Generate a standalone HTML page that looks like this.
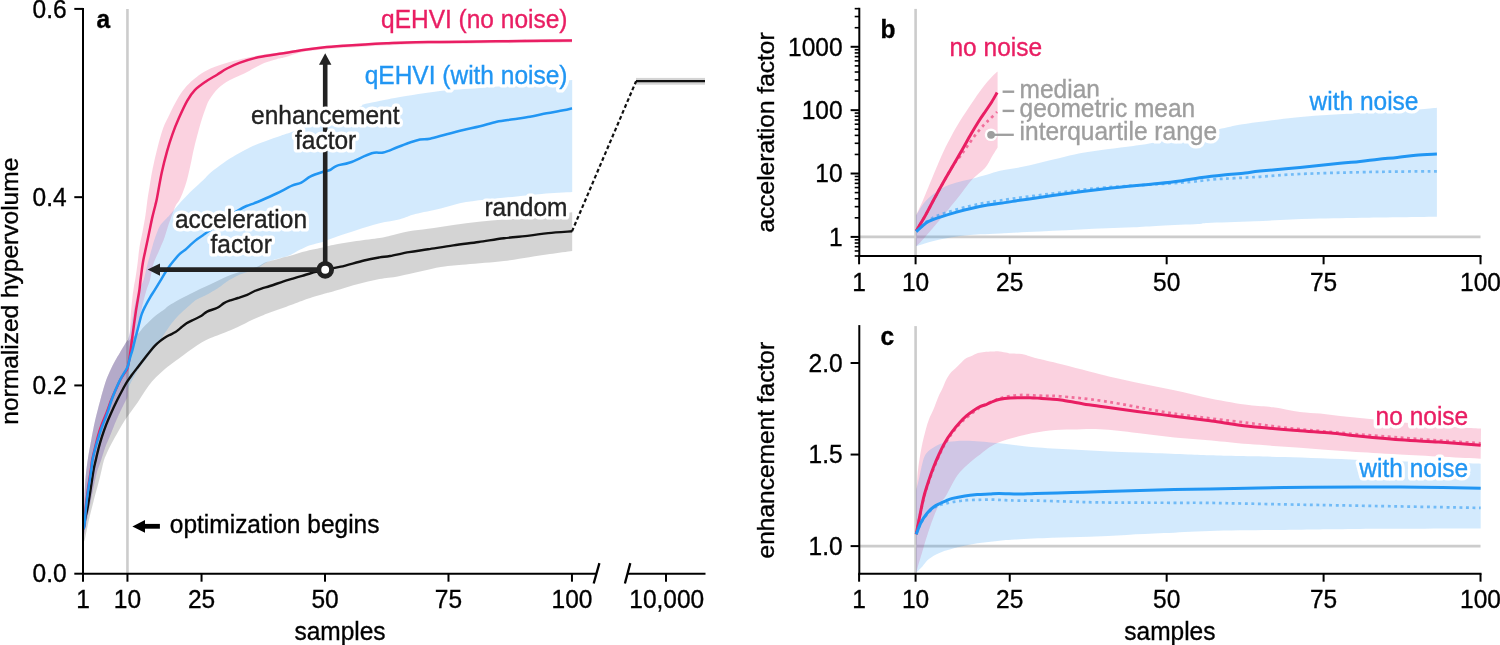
<!DOCTYPE html>
<html><head><meta charset="utf-8"><title>qEHVI benchmark figure</title>
<style>
html,body{margin:0;padding:0;background:#fff;width:1500px;height:645px;overflow:hidden}
svg{display:block;will-change:transform}
text{font-family:"Liberation Sans", sans-serif}
</style></head>
<body>
<svg width="1500" height="645" viewBox="0 0 1500 645">
<line x1="127.45" y1="8.9" x2="127.45" y2="573.7" stroke="#cccccc" stroke-width="2.6"/>
<path d="M83.70,518.00 C83.83,514.00 84.15,501.17 84.50,494.00 C84.85,486.83 85.22,481.00 85.80,475.00 C86.38,469.00 87.12,463.70 88.00,458.00 C88.88,452.30 89.92,447.03 91.10,440.80 C92.28,434.57 93.58,427.32 95.10,420.60 C96.62,413.88 98.52,406.77 100.20,400.50 C101.88,394.23 103.57,387.92 105.20,383.00 C106.83,378.08 108.37,374.67 110.00,371.00 C111.63,367.33 113.28,364.17 115.00,361.00 C116.72,357.83 118.25,355.42 120.30,352.00 C122.35,348.58 125.93,342.33 127.30,340.50 C128.67,338.67 127.55,341.58 128.50,341.00 C129.45,340.42 131.25,338.38 133.00,337.00 C134.75,335.62 137.23,334.35 139.00,332.70 C140.77,331.05 141.60,329.27 143.60,327.10 C145.60,324.93 148.77,321.80 151.00,319.70 C153.23,317.60 154.75,316.25 157.00,314.50 C159.25,312.75 162.50,310.68 164.50,309.20 C166.50,307.72 166.70,307.13 169.00,305.60 C171.30,304.07 174.80,301.93 178.30,300.00 C181.80,298.07 186.38,295.83 190.00,294.00 C193.62,292.17 196.67,290.58 200.00,289.00 C203.33,287.42 206.78,286.02 210.00,284.50 C213.22,282.98 216.20,281.37 219.30,279.90 C222.40,278.43 225.50,276.93 228.60,275.70 C231.70,274.47 234.67,273.53 237.90,272.50 C241.13,271.47 244.67,270.50 248.00,269.50 C251.33,268.50 255.07,267.67 257.90,266.50 C260.73,265.33 262.27,263.58 265.00,262.50 C267.73,261.42 271.20,260.88 274.30,260.00 C277.40,259.12 280.50,258.05 283.60,257.20 C286.70,256.35 289.80,255.75 292.90,254.90 C296.00,254.05 299.10,252.95 302.20,252.10 C305.30,251.25 308.08,250.58 311.50,249.80 C314.92,249.02 319.12,248.20 322.70,247.40 C326.28,246.60 327.40,246.05 333.00,245.00 C338.60,243.95 348.55,242.27 356.30,241.10 C364.05,239.93 373.88,238.90 379.50,238.00 C385.12,237.10 385.08,236.83 390.00,235.70 C394.92,234.57 402.67,232.37 409.00,231.20 C415.33,230.03 420.62,229.75 428.00,228.70 C435.38,227.65 444.85,226.07 453.30,224.90 C461.75,223.73 470.25,222.58 478.70,221.70 C487.15,220.82 495.57,220.22 504.00,219.60 C512.43,218.98 521.63,218.68 529.30,218.00 C536.97,217.32 542.85,216.47 550.00,215.50 C557.15,214.53 568.50,212.75 572.20,212.20 L572.20,250.90 C568.50,251.42 557.15,252.95 550.00,254.00 C542.85,255.05 536.97,256.03 529.30,257.20 C521.63,258.37 514.55,259.78 504.00,261.00 C493.45,262.22 476.52,263.50 466.00,264.50 C455.48,265.50 451.90,265.08 440.90,267.00 C429.90,268.92 410.23,273.98 400.00,276.00 C389.77,278.02 386.78,277.68 379.50,279.10 C372.22,280.52 364.05,282.43 356.30,284.50 C348.55,286.57 338.22,290.00 333.00,291.50 C327.78,293.00 328.58,292.50 325.00,293.50 C321.42,294.50 315.07,296.37 311.50,297.50 C307.93,298.63 307.77,298.77 303.60,300.30 C299.43,301.83 292.10,304.67 286.50,306.70 C280.90,308.73 274.22,310.95 270.00,312.50 C265.78,314.05 264.22,314.75 261.20,316.00 C258.18,317.25 255.78,318.17 251.90,320.00 C248.02,321.83 242.38,324.92 237.90,327.00 C233.42,329.08 228.82,330.95 225.00,332.50 C221.18,334.05 218.13,335.05 215.00,336.30 C211.87,337.55 209.22,338.45 206.20,340.00 C203.18,341.55 200.00,343.58 196.90,345.60 C193.80,347.62 190.70,349.87 187.60,352.10 C184.50,354.33 181.57,356.60 178.30,359.00 C175.03,361.40 171.05,364.08 168.00,366.50 C164.95,368.92 162.67,371.00 160.00,373.50 C157.33,376.00 154.55,378.50 152.00,381.50 C149.45,384.50 147.03,388.08 144.70,391.50 C142.37,394.92 140.20,398.75 138.00,402.00 C135.80,405.25 133.67,408.00 131.50,411.00 C129.33,414.00 127.17,416.67 125.00,420.00 C122.83,423.33 120.78,427.00 118.50,431.00 C116.22,435.00 113.30,440.17 111.30,444.00 C109.30,447.83 107.80,451.00 106.50,454.00 C105.20,457.00 104.63,457.95 103.50,462.00 C102.37,466.05 101.37,471.72 99.70,478.30 C98.03,484.88 95.30,494.53 93.50,501.50 C91.70,508.47 90.32,513.90 88.90,520.10 C87.48,526.30 85.90,535.05 85.00,538.70 C84.10,542.35 83.75,541.45 83.50,542.00 Z" fill="#000" fill-opacity="0.17"/>
<path d="M83.70,518.00 C83.83,514.00 84.15,501.17 84.50,494.00 C84.85,486.83 85.22,481.00 85.80,475.00 C86.38,469.00 87.12,463.70 88.00,458.00 C88.88,452.30 89.92,447.03 91.10,440.80 C92.28,434.57 93.58,427.32 95.10,420.60 C96.62,413.88 98.52,406.77 100.20,400.50 C101.88,394.23 103.57,387.92 105.20,383.00 C106.83,378.08 108.37,374.67 110.00,371.00 C111.63,367.33 113.28,364.17 115.00,361.00 C116.72,357.83 118.25,355.42 120.30,352.00 C122.35,348.58 126.08,342.33 127.30,340.50 C128.52,338.67 127.20,342.25 127.60,341.00 C128.00,339.75 129.20,337.00 129.70,333.00 C130.20,329.00 130.17,322.75 130.60,317.00 C131.03,311.25 131.73,303.67 132.30,298.50 C132.87,293.33 133.47,289.42 134.00,286.00 C134.53,282.58 134.92,281.67 135.50,278.00 C136.08,274.33 136.83,269.17 137.50,264.00 C138.17,258.83 138.67,252.33 139.50,247.00 C140.33,241.67 141.50,237.33 142.50,232.00 C143.50,226.67 144.68,220.33 145.50,215.00 C146.32,209.67 146.73,204.67 147.40,200.00 C148.07,195.33 148.67,192.00 149.50,187.00 C150.33,182.00 151.02,176.75 152.40,170.00 C153.78,163.25 156.00,153.50 157.80,146.50 C159.60,139.50 161.23,133.38 163.20,128.00 C165.17,122.62 167.30,118.92 169.60,114.20 C171.90,109.48 174.47,104.02 177.00,99.70 C179.53,95.38 182.05,91.65 184.80,88.30 C187.55,84.95 190.18,82.38 193.50,79.60 C196.82,76.82 200.77,73.87 204.70,71.60 C208.63,69.33 212.35,67.77 217.10,66.00 C221.85,64.23 227.42,62.55 233.20,61.00 C238.98,59.45 245.60,57.93 251.80,56.70 C258.00,55.47 264.87,54.43 270.40,53.60 C275.93,52.77 279.85,52.47 285.00,51.70 C290.15,50.93 295.02,49.90 301.30,49.00 C307.58,48.10 315.58,47.05 322.70,46.30 C329.82,45.55 336.90,45.03 344.00,44.50 C351.10,43.97 358.18,43.52 365.30,43.10 C372.42,42.68 379.58,42.33 386.70,42.00 C393.82,41.67 399.12,41.32 408.00,41.10 C416.88,40.88 427.80,40.85 440.00,40.70 C452.20,40.55 467.87,40.37 481.20,40.20 C494.53,40.03 504.87,39.88 520.00,39.70 C535.13,39.52 563.33,39.20 572.00,39.10 L572.00,42.40 C563.33,42.50 535.13,42.82 520.00,43.00 C504.87,43.18 494.53,43.33 481.20,43.50 C467.87,43.67 452.20,43.85 440.00,44.00 C427.80,44.15 416.88,44.18 408.00,44.40 C399.12,44.62 393.82,44.97 386.70,45.30 C379.58,45.63 372.42,45.98 365.30,46.40 C358.18,46.82 351.10,47.27 344.00,47.80 C336.90,48.33 329.82,48.85 322.70,49.60 C315.58,50.35 307.58,51.02 301.30,52.30 C295.02,53.58 289.12,56.15 285.00,57.30 C280.88,58.45 280.07,58.27 276.60,59.20 C273.13,60.13 267.92,61.45 264.20,62.90 C260.48,64.35 257.62,66.15 254.30,67.90 C250.98,69.65 248.43,71.35 244.30,73.40 C240.17,75.45 233.83,77.72 229.50,80.20 C225.17,82.68 221.63,85.08 218.30,88.30 C214.97,91.52 211.72,95.88 209.50,99.50 C207.28,103.12 206.52,105.92 205.00,110.00 C203.48,114.08 202.20,117.75 200.40,124.00 C198.60,130.25 195.85,140.67 194.20,147.50 C192.55,154.33 191.70,159.58 190.50,165.00 C189.30,170.42 188.25,175.50 187.00,180.00 C185.75,184.50 184.25,188.67 183.00,192.00 C181.75,195.33 180.75,197.67 179.50,200.00 C178.25,202.33 176.92,203.00 175.50,206.00 C174.08,209.00 172.18,214.83 171.00,218.00 C169.82,221.17 169.47,221.80 168.40,225.00 C167.33,228.20 166.03,233.20 164.60,237.20 C163.17,241.20 161.68,244.48 159.80,249.00 C157.92,253.52 154.93,259.13 153.30,264.30 C151.67,269.47 151.13,275.72 150.00,280.00 C148.87,284.28 147.75,285.83 146.50,290.00 C145.25,294.17 143.67,300.00 142.50,305.00 C141.33,310.00 140.50,315.17 139.50,320.00 C138.50,324.83 137.42,330.33 136.50,334.00 C135.58,337.67 134.83,339.00 134.00,342.00 C133.17,345.00 132.25,348.17 131.50,352.00 C130.75,355.83 130.03,360.33 129.50,365.00 C128.97,369.67 128.62,374.83 128.30,380.00 C127.98,385.17 127.98,392.67 127.60,396.00 C127.22,399.33 127.02,397.83 126.00,400.00 C124.98,402.17 123.17,405.50 121.50,409.00 C119.83,412.50 117.70,417.05 116.00,421.00 C114.30,424.95 113.13,428.20 111.30,432.70 C109.47,437.20 106.68,443.45 105.00,448.00 C103.32,452.55 102.53,456.00 101.20,460.00 C99.87,464.00 98.37,467.00 97.00,472.00 C95.63,477.00 94.33,483.67 93.00,490.00 C91.67,496.33 90.17,504.17 89.00,510.00 C87.83,515.83 86.83,520.83 86.00,525.00 C85.17,529.17 84.33,533.33 84.00,535.00 Z" fill="#E91E63" fill-opacity="0.2"/>
<path d="M83.70,518.00 C83.83,514.00 84.15,501.17 84.50,494.00 C84.85,486.83 85.22,481.00 85.80,475.00 C86.38,469.00 87.12,463.70 88.00,458.00 C88.88,452.30 89.92,447.03 91.10,440.80 C92.28,434.57 93.58,427.32 95.10,420.60 C96.62,413.88 98.52,406.77 100.20,400.50 C101.88,394.23 103.57,387.92 105.20,383.00 C106.83,378.08 108.37,374.67 110.00,371.00 C111.63,367.33 113.28,364.17 115.00,361.00 C116.72,357.83 118.25,355.42 120.30,352.00 C122.35,348.58 126.08,342.33 127.30,340.50 C128.52,338.67 127.15,342.42 127.60,341.00 C128.05,339.58 129.18,335.83 130.00,332.00 C130.82,328.17 131.58,323.00 132.50,318.00 C133.42,313.00 134.42,306.67 135.50,302.00 C136.58,297.33 137.65,293.67 139.00,290.00 C140.35,286.33 142.20,284.25 143.60,280.00 C145.00,275.75 146.02,269.78 147.40,264.50 C148.78,259.22 150.63,252.72 151.90,248.30 C153.17,243.88 153.70,241.68 155.00,238.00 C156.30,234.32 158.03,229.20 159.70,226.20 C161.37,223.20 163.33,221.87 165.00,220.00 C166.67,218.13 167.87,217.08 169.70,215.00 C171.53,212.92 173.85,210.00 176.00,207.50 C178.15,205.00 179.87,202.92 182.60,200.00 C185.33,197.08 188.95,193.35 192.40,190.00 C195.85,186.65 200.20,182.87 203.30,179.90 C206.40,176.93 207.65,175.03 211.00,172.20 C214.35,169.37 219.27,165.75 223.40,162.90 C227.53,160.05 231.40,157.68 235.80,155.10 C240.20,152.52 244.88,149.72 249.80,147.40 C254.72,145.08 260.13,143.15 265.30,141.20 C270.47,139.25 276.15,137.30 280.80,135.70 C285.45,134.10 286.67,134.05 293.20,131.60 C299.73,129.15 309.22,125.02 320.00,121.00 C330.78,116.98 350.68,110.25 357.90,107.50 C365.12,104.75 360.28,105.45 363.30,104.50 C366.32,103.55 370.10,103.00 376.00,101.80 C381.90,100.60 388.03,99.10 398.70,97.30 C409.37,95.50 426.45,92.57 440.00,91.00 C453.55,89.43 465.00,89.10 480.00,87.90 C495.00,86.70 514.63,85.12 530.00,83.80 C545.37,82.48 565.17,80.63 572.20,80.00 L572.20,192.00 C567.17,192.32 551.25,193.17 542.00,193.90 C532.75,194.63 525.15,195.57 516.70,196.40 C508.25,197.23 499.75,197.95 491.30,198.90 C482.85,199.85 474.43,200.52 466.00,202.10 C457.57,203.68 449.15,206.40 440.70,208.40 C432.25,210.40 422.08,212.28 415.30,214.10 C408.52,215.92 405.97,217.77 400.00,219.30 C394.03,220.83 386.78,221.48 379.50,223.30 C372.22,225.12 364.05,227.75 356.30,230.20 C348.55,232.65 338.60,236.05 333.00,238.00 C327.40,239.95 326.53,240.70 322.70,241.90 C318.87,243.10 313.82,243.88 310.00,245.20 C306.18,246.52 303.05,248.18 299.80,249.80 C296.55,251.42 293.45,253.62 290.50,254.90 C287.55,256.18 285.98,256.33 282.10,257.50 C278.22,258.67 271.23,260.17 267.20,261.90 C263.17,263.63 261.60,266.08 257.90,267.90 C254.20,269.72 248.33,271.53 245.00,272.80 C241.67,274.07 240.95,274.02 237.90,275.50 C234.85,276.98 229.80,279.73 226.70,281.70 C223.60,283.67 222.08,285.43 219.30,287.30 C216.52,289.17 212.88,291.28 210.00,292.90 C207.12,294.52 204.35,295.82 202.00,297.00 C199.65,298.18 197.85,298.72 195.90,300.00 C193.95,301.28 192.47,302.83 190.30,304.70 C188.13,306.57 185.07,309.20 182.90,311.20 C180.73,313.20 179.17,314.68 177.30,316.70 C175.43,318.72 173.87,320.42 171.70,323.30 C169.53,326.18 166.17,331.22 164.30,334.00 C162.43,336.78 162.05,337.83 160.50,340.00 C158.95,342.17 156.87,344.50 155.00,347.00 C153.13,349.50 151.55,351.98 149.30,355.00 C147.05,358.02 143.83,361.87 141.50,365.10 C139.17,368.33 137.50,370.52 135.30,374.40 C133.10,378.28 129.58,384.80 128.30,388.40 C127.02,392.00 127.98,394.07 127.60,396.00 C127.22,397.93 127.02,397.83 126.00,400.00 C124.98,402.17 123.17,405.50 121.50,409.00 C119.83,412.50 117.70,417.05 116.00,421.00 C114.30,424.95 113.13,428.20 111.30,432.70 C109.47,437.20 106.68,443.45 105.00,448.00 C103.32,452.55 102.53,456.00 101.20,460.00 C99.87,464.00 98.37,467.00 97.00,472.00 C95.63,477.00 94.33,483.67 93.00,490.00 C91.67,496.33 90.17,504.17 89.00,510.00 C87.83,515.83 86.83,520.83 86.00,525.00 C85.17,529.17 84.33,533.33 84.00,535.00 Z" fill="#2196F3" fill-opacity="0.2"/>
<path d="M83.50,529.00 C83.83,527.00 84.87,520.28 85.50,517.00 C86.13,513.72 86.48,513.68 87.30,509.30 C88.12,504.92 89.37,497.17 90.40,490.70 C91.43,484.23 92.60,475.62 93.50,470.50 C94.40,465.38 94.95,463.70 95.80,460.00 C96.65,456.30 97.60,452.10 98.60,448.30 C99.60,444.50 100.57,441.07 101.80,437.20 C103.03,433.33 104.52,428.98 106.00,425.10 C107.48,421.22 108.83,418.08 110.70,413.90 C112.57,409.72 115.27,403.95 117.20,400.00 C119.13,396.05 120.67,393.22 122.30,390.20 C123.93,387.18 125.45,384.38 127.00,381.90 C128.55,379.42 129.90,377.63 131.60,375.30 C133.30,372.97 135.18,370.53 137.20,367.90 C139.22,365.27 141.53,362.28 143.70,359.50 C145.87,356.72 148.32,353.52 150.20,351.20 C152.08,348.88 153.42,347.23 155.00,345.60 C156.58,343.97 158.15,342.65 159.70,341.40 C161.25,340.15 162.75,339.12 164.30,338.10 C165.85,337.08 167.13,336.30 169.00,335.30 C170.87,334.30 173.65,333.25 175.50,332.10 C177.35,330.95 178.25,329.87 180.10,328.40 C181.95,326.93 184.27,324.78 186.60,323.30 C188.93,321.82 191.62,320.75 194.10,319.50 C196.58,318.25 199.33,317.12 201.50,315.80 C203.67,314.48 204.45,312.93 207.10,311.60 C209.75,310.27 214.58,309.22 217.40,307.80 C220.22,306.38 221.82,304.35 224.00,303.10 C226.18,301.85 228.18,301.15 230.50,300.30 C232.82,299.45 235.12,298.92 237.90,298.00 C240.68,297.08 244.40,295.97 247.20,294.80 C250.00,293.63 252.22,292.08 254.70,291.00 C257.18,289.92 259.55,289.13 262.10,288.30 C264.65,287.47 266.42,287.15 270.00,286.00 C273.58,284.85 279.78,282.63 283.60,281.40 C287.42,280.17 289.80,279.53 292.90,278.60 C296.00,277.67 299.10,276.73 302.20,275.80 C305.30,274.87 309.02,273.70 311.50,273.00 C313.98,272.30 314.85,272.13 317.10,271.60 C319.35,271.07 321.05,270.62 325.00,269.80 C328.95,268.98 334.30,268.25 340.80,266.70 C347.30,265.15 357.55,262.05 364.00,260.50 C370.45,258.95 375.17,258.15 379.50,257.40 C383.83,256.65 385.08,256.88 390.00,256.00 C394.92,255.12 402.67,253.22 409.00,252.10 C415.33,250.98 420.62,250.42 428.00,249.30 C435.38,248.18 444.85,246.62 453.30,245.40 C461.75,244.18 470.25,243.18 478.70,242.00 C487.15,240.82 495.57,239.37 504.00,238.30 C512.43,237.23 521.92,236.47 529.30,235.60 C536.68,234.73 541.15,233.82 548.30,233.10 C555.45,232.38 568.22,231.60 572.20,231.30" fill="none" stroke="#111" stroke-width="2.4" stroke-linejoin="round"/>
<path d="M83.50,529.00 C83.65,528.25 84.05,527.83 84.40,524.50 C84.75,521.17 85.03,514.67 85.60,509.00 C86.17,503.33 86.92,497.00 87.80,490.50 C88.68,484.00 90.17,475.08 90.90,470.00 C91.63,464.92 91.52,463.67 92.20,460.00 C92.88,456.33 94.03,452.00 95.00,448.00 C95.97,444.00 96.90,439.83 98.00,436.00 C99.10,432.17 100.18,428.83 101.60,425.00 C103.02,421.17 104.90,417.17 106.50,413.00 C108.10,408.83 109.65,403.90 111.20,400.00 C112.75,396.10 114.25,393.02 115.80,389.60 C117.35,386.18 118.88,382.52 120.50,379.50 C122.12,376.48 124.35,373.33 125.50,371.50 C126.65,369.67 126.73,370.75 127.40,368.50 C128.07,366.25 128.82,362.25 129.50,358.00 C130.18,353.75 130.78,348.33 131.50,343.00 C132.22,337.67 133.07,331.33 133.80,326.00 C134.53,320.67 135.27,315.17 135.90,311.00 C136.53,306.83 137.02,304.50 137.60,301.00 C138.18,297.50 138.90,293.58 139.40,290.00 C139.90,286.42 140.00,284.17 140.60,279.50 C141.20,274.83 142.08,267.40 143.00,262.00 C143.92,256.60 145.07,252.05 146.10,247.10 C147.13,242.15 148.17,237.25 149.20,232.30 C150.23,227.35 151.27,221.95 152.30,217.40 C153.33,212.85 154.62,208.23 155.40,205.00 C156.18,201.77 155.95,203.37 157.00,198.00 C158.05,192.63 160.02,180.62 161.70,172.80 C163.38,164.98 165.30,157.55 167.10,151.10 C168.90,144.65 170.57,139.52 172.50,134.10 C174.43,128.68 176.23,124.17 178.70,118.60 C181.17,113.03 184.62,105.43 187.30,100.70 C189.98,95.97 191.70,93.40 194.80,90.20 C197.90,87.00 202.18,84.08 205.90,81.50 C209.62,78.92 213.58,76.87 217.10,74.70 C220.62,72.53 223.28,70.47 227.00,68.50 C230.72,66.53 234.23,64.77 239.40,62.90 C244.57,61.03 250.40,58.95 258.00,57.30 C265.60,55.65 277.78,54.17 285.00,53.00 C292.22,51.83 295.02,51.20 301.30,50.30 C307.58,49.40 315.58,48.35 322.70,47.60 C329.82,46.85 336.90,46.33 344.00,45.80 C351.10,45.27 358.18,44.82 365.30,44.40 C372.42,43.98 379.58,43.63 386.70,43.30 C393.82,42.97 399.12,42.62 408.00,42.40 C416.88,42.18 427.80,42.15 440.00,42.00 C452.20,41.85 467.87,41.67 481.20,41.50 C494.53,41.33 504.87,41.18 520.00,41.00 C535.13,40.82 563.33,40.50 572.00,40.40" fill="none" stroke="#E91E63" stroke-width="2.5" stroke-linejoin="round"/>
<path d="M83.50,529.00 C83.67,528.30 84.12,528.08 84.50,524.80 C84.88,521.52 85.20,514.98 85.80,509.30 C86.40,503.62 87.20,497.17 88.10,490.70 C89.00,484.23 90.47,475.62 91.20,470.50 C91.93,465.38 91.82,463.70 92.50,460.00 C93.18,456.30 94.28,452.10 95.30,448.30 C96.32,444.50 97.43,440.92 98.60,437.20 C99.77,433.48 100.90,429.88 102.30,426.00 C103.70,422.12 105.45,418.23 107.00,413.90 C108.55,409.57 110.13,404.10 111.60,400.00 C113.07,395.90 114.32,392.78 115.80,389.30 C117.28,385.82 118.80,382.35 120.50,379.10 C122.20,375.85 124.77,371.98 126.00,369.80 C127.23,367.62 127.27,367.87 127.90,366.00 C128.53,364.13 129.02,361.38 129.80,358.60 C130.58,355.82 131.75,352.40 132.60,349.30 C133.45,346.20 134.30,342.38 134.90,340.00 C135.50,337.62 135.52,337.62 136.20,335.00 C136.88,332.38 138.08,327.78 139.00,324.30 C139.92,320.82 140.62,317.20 141.70,314.10 C142.78,311.00 144.10,308.50 145.50,305.70 C146.90,302.90 148.55,299.93 150.10,297.30 C151.65,294.67 153.25,292.38 154.80,289.90 C156.35,287.42 158.02,284.68 159.40,282.40 C160.78,280.12 161.72,278.48 163.10,276.20 C164.48,273.92 166.00,271.18 167.70,268.70 C169.40,266.22 171.28,263.78 173.30,261.30 C175.32,258.82 177.80,255.73 179.80,253.80 C181.80,251.87 183.28,251.40 185.30,249.70 C187.32,248.00 189.88,245.38 191.90,243.60 C193.92,241.82 195.55,240.40 197.40,239.00 C199.25,237.60 201.33,236.35 203.00,235.20 C204.67,234.05 205.40,233.55 207.40,232.10 C209.40,230.65 212.07,228.60 215.00,226.50 C217.93,224.40 222.17,221.50 225.00,219.50 C227.83,217.50 229.65,216.12 232.00,214.50 C234.35,212.88 236.68,211.22 239.10,209.80 C241.52,208.38 244.02,207.08 246.50,206.00 C248.98,204.92 251.58,204.22 254.00,203.30 C256.42,202.38 257.25,202.13 261.00,200.50 C264.75,198.87 271.33,195.97 276.50,193.50 C281.67,191.03 287.87,187.52 292.00,185.70 C296.13,183.88 298.20,184.15 301.30,182.60 C304.40,181.05 306.98,178.20 310.60,176.40 C314.22,174.60 319.77,172.87 323.00,171.80 C326.23,170.73 327.72,171.00 330.00,170.00 C332.28,169.00 333.37,167.05 336.70,165.80 C340.03,164.55 344.17,164.58 350.00,162.50 C355.83,160.42 366.15,154.97 371.70,153.30 C377.25,151.63 379.13,153.47 383.30,152.50 C387.47,151.53 392.25,149.17 396.70,147.50 C401.15,145.83 406.12,143.83 410.00,142.50 C413.88,141.17 416.67,140.13 420.00,139.50 C423.33,138.87 425.55,139.58 430.00,138.70 C434.45,137.82 441.15,135.65 446.70,134.20 C452.25,132.75 457.75,131.32 463.30,130.00 C468.85,128.68 474.43,127.68 480.00,126.30 C485.57,124.92 491.15,122.88 496.70,121.70 C502.25,120.52 507.75,120.03 513.30,119.20 C518.85,118.37 524.43,117.68 530.00,116.70 C535.57,115.72 541.15,114.37 546.70,113.30 C552.25,112.23 559.08,111.13 563.30,110.30 C567.52,109.47 570.55,108.63 572.00,108.30" fill="none" stroke="#2196F3" stroke-width="2.5" stroke-linejoin="round"/>
<rect x="636" y="77.9" width="69" height="6.8" fill="#000" fill-opacity="0.17"/>
<line x1="636" y1="81.2" x2="705" y2="81.2" stroke="#111" stroke-width="2.2"/>
<line x1="572" y1="231.4" x2="636.1" y2="81.2" stroke="#111" stroke-width="2.2" stroke-dasharray="3.8 2.6"/>
<line x1="325.2" y1="269.8" x2="325.2" y2="64" stroke="#222222" stroke-width="4.6"/>
<polygon points="325.2,53.2 319,64.8 331.4,64.8" fill="#222222"/>
<line x1="325.2" y1="269.6" x2="159" y2="269.6" stroke="#222222" stroke-width="4.8"/>
<polygon points="147.6,269.6 160,263.4 160,275.8" fill="#222222"/>
<circle cx="325.2" cy="269.8" r="6.4" fill="#fff" stroke="#222222" stroke-width="4.9"/>
<text x="325.3" y="124" text-anchor="middle" font-size="24.5" font-weight="normal" transform="translate(0,124) scale(1,1.035) translate(0,-124)" fill="#fff" stroke="#fff" stroke-width="7" stroke-linejoin="round">enhancement</text><text x="325.3" y="124" text-anchor="middle" font-size="24.5" font-weight="normal" transform="translate(0,124) scale(1,1.035) translate(0,-124)" fill="#222222" stroke="#222222" stroke-width="0.35">enhancement</text>
<text x="325.6" y="149" text-anchor="middle" font-size="24.5" font-weight="normal" transform="translate(0,149) scale(1,1.035) translate(0,-149)" fill="#fff" stroke="#fff" stroke-width="7" stroke-linejoin="round">factor</text><text x="325.6" y="149" text-anchor="middle" font-size="24.5" font-weight="normal" transform="translate(0,149) scale(1,1.035) translate(0,-149)" fill="#222222" stroke="#222222" stroke-width="0.35">factor</text>
<text x="241" y="228" text-anchor="middle" font-size="24.5" font-weight="normal" transform="translate(0,228) scale(1,1.035) translate(0,-228)" fill="#fff" stroke="#fff" stroke-width="7" stroke-linejoin="round">acceleration</text><text x="241" y="228" text-anchor="middle" font-size="24.5" font-weight="normal" transform="translate(0,228) scale(1,1.035) translate(0,-228)" fill="#222222" stroke="#222222" stroke-width="0.35">acceleration</text>
<text x="241.2" y="253" text-anchor="middle" font-size="24.5" font-weight="normal" transform="translate(0,253) scale(1,1.035) translate(0,-253)" fill="#fff" stroke="#fff" stroke-width="7" stroke-linejoin="round">factor</text><text x="241.2" y="253" text-anchor="middle" font-size="24.5" font-weight="normal" transform="translate(0,253) scale(1,1.035) translate(0,-253)" fill="#222222" stroke="#222222" stroke-width="0.35">factor</text>
<text x="567.5" y="28" text-anchor="end" font-size="24.5" font-weight="normal" transform="translate(0,28) scale(1,1.035) translate(0,-28)" fill="#fff" stroke="#fff" stroke-width="7" stroke-linejoin="round">qEHVI (no noise)</text><text x="567.5" y="28" text-anchor="end" font-size="24.5" font-weight="normal" transform="translate(0,28) scale(1,1.035) translate(0,-28)" fill="#E91E63" stroke="#E91E63" stroke-width="0.35">qEHVI (no noise)</text>
<text x="567.5" y="84" text-anchor="end" font-size="24.5" font-weight="normal" transform="translate(0,84) scale(1,1.035) translate(0,-84)" fill="#fff" stroke="#fff" stroke-width="7" stroke-linejoin="round">qEHVI (with noise)</text><text x="567.5" y="84" text-anchor="end" font-size="24.5" font-weight="normal" transform="translate(0,84) scale(1,1.035) translate(0,-84)" fill="#2196F3" stroke="#2196F3" stroke-width="0.35">qEHVI (with noise)</text>
<text x="567.5" y="216" text-anchor="end" font-size="24.5" font-weight="normal" transform="translate(0,216) scale(1,1.035) translate(0,-216)" fill="#fff" stroke="#fff" stroke-width="7" stroke-linejoin="round">random</text><text x="567.5" y="216" text-anchor="end" font-size="24.5" font-weight="normal" transform="translate(0,216) scale(1,1.035) translate(0,-216)" fill="#222222" stroke="#222222" stroke-width="0.35">random</text>
<line x1="144" y1="526.3" x2="159.9" y2="526.3" stroke="#000" stroke-width="4.8"/>
<polygon points="132.4,526.4 145,520 145,532.8" fill="#000"/>
<text x="169.8" y="533" text-anchor="start" font-size="24.5" font-weight="normal" transform="translate(0,533) scale(1,1.035) translate(0,-533)" fill="#000" stroke="#000" stroke-width="0.35">optimization begins</text>
<text x="96.5" y="28" text-anchor="start" font-size="24.5" font-weight="bold" transform="translate(0,28) scale(1,1.035) translate(0,-28)" fill="#000" stroke="#000" stroke-width="0.35">a</text>
<line x1="83.0" y1="7.9" x2="83.0" y2="574.6" stroke="#000" stroke-width="2"/>
<line x1="82.1" y1="573.7" x2="596.5" y2="573.7" stroke="#000" stroke-width="2"/>
<line x1="627.6" y1="573.7" x2="705.5" y2="573.7" stroke="#000" stroke-width="2"/>
<line x1="593.7" y1="583.5" x2="599.4" y2="563.1" stroke="#000" stroke-width="2.3"/>
<line x1="624.9" y1="583.5" x2="630.3" y2="563.1" stroke="#000" stroke-width="2.3"/>
<line x1="74.3" y1="573.70" x2="83.0" y2="573.70" stroke="#000" stroke-width="2"/>
<text x="66.6" y="582" text-anchor="end" font-size="24.5" font-weight="normal" transform="translate(0,582) scale(1,1.035) translate(0,-582)" fill="#000" stroke="#000" stroke-width="0.35">0.0</text>
<line x1="74.3" y1="385.43" x2="83.0" y2="385.43" stroke="#000" stroke-width="2"/>
<text x="66.6" y="394" text-anchor="end" font-size="24.5" font-weight="normal" transform="translate(0,394) scale(1,1.035) translate(0,-394)" fill="#000" stroke="#000" stroke-width="0.35">0.2</text>
<line x1="74.3" y1="197.17" x2="83.0" y2="197.17" stroke="#000" stroke-width="2"/>
<text x="66.6" y="206" text-anchor="end" font-size="24.5" font-weight="normal" transform="translate(0,206) scale(1,1.035) translate(0,-206)" fill="#000" stroke="#000" stroke-width="0.35">0.4</text>
<line x1="74.3" y1="8.90" x2="83.0" y2="8.90" stroke="#000" stroke-width="2"/>
<text x="66.6" y="18" text-anchor="end" font-size="24.5" font-weight="normal" transform="translate(0,18) scale(1,1.035) translate(0,-18)" fill="#000" stroke="#000" stroke-width="0.35">0.6</text>
<line x1="83.00" y1="573.7" x2="83.00" y2="581.7" stroke="#000" stroke-width="2"/>
<text x="83.00" y="608" text-anchor="middle" font-size="24.5" font-weight="normal" transform="translate(0,608) scale(1,1.035) translate(0,-608)" fill="#000" stroke="#000" stroke-width="0.35">1</text>
<line x1="127.45" y1="573.7" x2="127.45" y2="581.7" stroke="#000" stroke-width="2"/>
<text x="127.45" y="608" text-anchor="middle" font-size="24.5" font-weight="normal" transform="translate(0,608) scale(1,1.035) translate(0,-608)" fill="#000" stroke="#000" stroke-width="0.35">10</text>
<line x1="201.54" y1="573.7" x2="201.54" y2="581.7" stroke="#000" stroke-width="2"/>
<text x="201.54" y="608" text-anchor="middle" font-size="24.5" font-weight="normal" transform="translate(0,608) scale(1,1.035) translate(0,-608)" fill="#000" stroke="#000" stroke-width="0.35">25</text>
<line x1="325.01" y1="573.7" x2="325.01" y2="581.7" stroke="#000" stroke-width="2"/>
<text x="325.01" y="608" text-anchor="middle" font-size="24.5" font-weight="normal" transform="translate(0,608) scale(1,1.035) translate(0,-608)" fill="#000" stroke="#000" stroke-width="0.35">50</text>
<line x1="448.49" y1="573.7" x2="448.49" y2="581.7" stroke="#000" stroke-width="2"/>
<text x="448.49" y="608" text-anchor="middle" font-size="24.5" font-weight="normal" transform="translate(0,608) scale(1,1.035) translate(0,-608)" fill="#000" stroke="#000" stroke-width="0.35">75</text>
<line x1="571.96" y1="573.7" x2="571.96" y2="581.7" stroke="#000" stroke-width="2"/>
<text x="571.96" y="608" text-anchor="middle" font-size="24.5" font-weight="normal" transform="translate(0,608) scale(1,1.035) translate(0,-608)" fill="#000" stroke="#000" stroke-width="0.35">100</text>
<line x1="666" y1="573.7" x2="666" y2="581.7" stroke="#000" stroke-width="2"/>
<text x="666.8" y="608" text-anchor="middle" font-size="24.5" font-weight="normal" transform="translate(0,608) scale(1,1.035) translate(0,-608)" fill="#000" stroke="#000" stroke-width="0.35">10,000</text>
<text x="340" y="640" text-anchor="middle" font-size="24.5" font-weight="normal" transform="translate(0,640) scale(1,1.035) translate(0,-640)" fill="#000" stroke="#000" stroke-width="0.35">samples</text>
<text x="0" y="0" text-anchor="middle" font-size="24.5" font-weight="normal" transform="translate(17.6,291.2) rotate(-90)" fill="#000" stroke="#000" stroke-width="0.35">normalized hypervolume</text>
<line x1="915.59" y1="8.9" x2="915.59" y2="256.1" stroke="#cccccc" stroke-width="2.6"/>
<line x1="859.3" y1="236.90" x2="1480.52" y2="236.90" stroke="#cccccc" stroke-width="2.6"/>
<path d="M916.20,215.00 C917.35,212.50 920.20,206.73 923.10,200.00 C926.00,193.27 930.20,182.68 933.60,174.60 C937.00,166.52 940.40,158.18 943.50,151.50 C946.60,144.82 949.40,139.67 952.20,134.50 C955.00,129.33 957.08,125.68 960.30,120.50 C963.52,115.32 967.82,108.83 971.50,103.40 C975.18,97.97 979.03,92.28 982.40,87.90 C985.77,83.52 989.17,79.82 991.70,77.10 C994.23,74.38 996.62,72.52 997.60,71.60 L997.60,147.50 C996.62,149.08 993.80,153.58 991.70,157.00 C989.60,160.42 988.27,164.25 985.00,168.00 C981.73,171.75 976.07,175.25 972.10,179.50 C968.13,183.75 965.08,188.58 961.20,193.50 C957.32,198.42 953.45,203.32 948.80,209.00 C944.15,214.68 937.70,222.43 933.30,227.60 C928.90,232.77 925.25,236.88 922.40,240.00 C919.55,243.12 917.23,245.25 916.20,246.30 Z" fill="#E91E63" fill-opacity="0.2"/>
<path d="M916.20,215.20 C917.75,212.87 921.37,205.60 925.50,201.20 C929.63,196.80 935.82,191.90 941.00,188.80 C946.18,185.70 951.42,184.28 956.60,182.60 C961.78,180.92 966.93,180.05 972.10,178.70 C977.27,177.35 982.95,175.83 987.60,174.50 C992.25,173.17 994.60,171.90 1000.00,170.70 C1005.40,169.50 1013.33,168.63 1020.00,167.30 C1026.67,165.97 1033.33,164.25 1040.00,162.70 C1046.67,161.15 1053.33,159.57 1060.00,158.00 C1066.67,156.43 1072.22,154.75 1080.00,153.30 C1087.78,151.85 1097.82,150.52 1106.70,149.30 C1115.58,148.08 1125.97,147.00 1133.30,146.00 C1140.63,145.00 1142.92,144.72 1150.70,143.30 C1158.48,141.88 1168.78,139.82 1180.00,137.50 C1191.22,135.18 1207.87,131.57 1218.00,129.40 C1228.13,127.23 1232.92,125.87 1240.80,124.50 C1248.68,123.13 1255.77,122.42 1265.30,121.20 C1274.83,119.98 1287.10,118.28 1298.00,117.20 C1308.90,116.12 1319.82,115.43 1330.70,114.70 C1341.58,113.97 1353.42,113.42 1363.30,112.80 C1373.18,112.18 1380.73,111.55 1390.00,111.00 C1399.27,110.45 1411.08,110.03 1418.90,109.50 C1426.72,108.97 1433.90,108.08 1436.90,107.80 L1436.90,216.80 C1425.58,216.95 1389.82,217.38 1369.00,217.70 C1348.18,218.02 1331.00,218.12 1312.00,218.70 C1293.00,219.28 1272.42,220.50 1255.00,221.20 C1237.58,221.90 1217.00,222.43 1207.50,222.90 C1198.00,223.37 1205.92,223.53 1198.00,224.00 C1190.08,224.47 1170.78,225.15 1160.00,225.70 C1149.22,226.25 1142.18,226.87 1133.30,227.30 C1124.42,227.73 1115.58,227.95 1106.70,228.30 C1097.82,228.65 1088.90,229.00 1080.00,229.40 C1071.10,229.80 1062.18,230.25 1053.30,230.70 C1044.42,231.15 1035.58,231.65 1026.70,232.10 C1017.82,232.55 1007.78,233.03 1000.00,233.40 C992.22,233.77 986.67,233.88 980.00,234.30 C973.33,234.72 966.50,235.07 960.00,235.90 C953.50,236.73 946.75,238.08 941.00,239.30 C935.25,240.52 929.63,242.03 925.50,243.20 C921.37,244.37 917.75,245.78 916.20,246.30 Z" fill="#2196F3" fill-opacity="0.2"/>
<path d="M916.20,231.00 C917.75,228.37 922.60,220.37 925.50,215.20 C928.40,210.03 930.60,205.52 933.60,200.00 C936.60,194.48 940.18,187.98 943.50,182.10 C946.82,176.22 950.67,169.05 953.50,164.70 C956.33,160.35 958.23,159.03 960.50,156.00 C962.77,152.97 964.55,150.08 967.10,146.50 C969.65,142.92 972.90,138.22 975.80,134.50 C978.70,130.78 982.12,126.80 984.50,124.20 C986.88,121.60 988.00,120.95 990.10,118.90 C992.20,116.85 995.93,113.07 997.10,111.90" fill="none" stroke="#E91E63" stroke-opacity="0.55" stroke-width="2.7" stroke-dasharray="2.9 3.6"/>
<path d="M916.20,231.00 C917.75,228.37 922.60,220.37 925.50,215.20 C928.40,210.03 930.60,205.52 933.60,200.00 C936.60,194.48 940.18,187.98 943.50,182.10 C946.82,176.22 950.38,170.08 953.50,164.70 C956.62,159.32 959.30,154.87 962.20,149.80 C965.10,144.73 968.12,139.10 970.90,134.30 C973.68,129.50 976.38,124.97 978.90,121.00 C981.42,117.03 983.87,113.67 986.00,110.50 C988.13,107.33 989.85,104.98 991.70,102.00 C993.55,99.02 996.20,94.17 997.10,92.60" fill="none" stroke="#E91E63" stroke-width="3.0"/>
<path d="M916.20,231.50 C917.23,230.50 920.33,227.33 922.40,225.50 C924.47,223.67 925.50,222.35 928.60,220.50 C931.70,218.65 934.10,216.82 941.00,214.40 C947.90,211.98 960.17,208.32 970.00,206.00 C979.83,203.68 986.22,202.58 1000.00,200.50 C1013.78,198.42 1035.13,195.67 1052.70,193.50 C1070.27,191.33 1084.18,189.28 1105.40,187.50 C1126.62,185.72 1162.13,184.13 1180.00,182.80 C1197.87,181.47 1203.55,180.27 1212.60,179.50 C1221.65,178.73 1226.40,178.65 1234.30,178.20 C1242.20,177.75 1249.05,177.50 1260.00,176.80 C1270.95,176.10 1283.33,174.77 1300.00,174.00 C1316.67,173.23 1343.80,172.60 1360.00,172.20 C1376.20,171.80 1384.38,171.75 1397.20,171.60 C1410.02,171.45 1430.28,171.35 1436.90,171.30" fill="none" stroke="#2196F3" stroke-opacity="0.55" stroke-width="2.7" stroke-dasharray="2.9 3.6"/>
<path d="M916.20,231.50 C917.23,230.60 920.33,227.78 922.40,226.10 C924.47,224.42 925.50,222.95 928.60,221.40 C931.70,219.85 936.33,218.35 941.00,216.80 C945.67,215.25 951.42,213.53 956.60,212.10 C961.78,210.67 966.93,209.37 972.10,208.20 C977.27,207.03 982.95,205.92 987.60,205.10 C992.25,204.28 989.15,204.92 1000.00,203.30 C1010.85,201.68 1035.13,197.82 1052.70,195.40 C1070.27,192.98 1087.85,190.78 1105.40,188.80 C1122.95,186.82 1145.57,184.82 1158.00,183.50 C1170.43,182.18 1172.72,181.92 1180.00,180.90 C1187.28,179.88 1194.47,178.40 1201.70,177.40 C1208.93,176.40 1216.17,175.63 1223.40,174.90 C1230.63,174.17 1239.00,173.63 1245.10,173.00 C1251.20,172.37 1250.85,172.03 1260.00,171.10 C1269.15,170.17 1286.67,168.70 1300.00,167.40 C1313.33,166.10 1330.00,164.30 1340.00,163.30 C1350.00,162.30 1353.57,162.08 1360.00,161.40 C1366.43,160.72 1372.40,159.87 1378.60,159.20 C1384.80,158.53 1391.00,158.07 1397.20,157.40 C1403.40,156.73 1409.18,155.77 1415.80,155.20 C1422.42,154.63 1433.38,154.20 1436.90,154.00" fill="none" stroke="#2196F3" stroke-width="3.0"/>
<line x1="1002.6" y1="91.7" x2="1014.2" y2="91.7" stroke="#9e9e9e" stroke-width="2.4"/>
<line x1="1002.6" y1="110.9" x2="1014.2" y2="110.9" stroke="#9e9e9e" stroke-width="2.4"/>
<circle cx="991.05" cy="134.8" r="6.3" fill="#fff"/>
<line x1="991" y1="134.8" x2="1013.8" y2="134.8" stroke="#9e9e9e" stroke-width="2.3"/>
<circle cx="991.05" cy="134.8" r="3.9" fill="#9e9e9e"/>
<text x="1019.6" y="98" text-anchor="start" font-size="24.5" font-weight="normal" transform="translate(0,98) scale(1,1.035) translate(0,-98)" fill="#fff" stroke="#fff" stroke-width="7" stroke-linejoin="round">median</text><text x="1019.6" y="98" text-anchor="start" font-size="24.5" font-weight="normal" transform="translate(0,98) scale(1,1.035) translate(0,-98)" fill="#9e9e9e" stroke="#9e9e9e" stroke-width="0.35">median</text>
<text x="1019.6" y="117" text-anchor="start" font-size="24.5" font-weight="normal" transform="translate(0,117) scale(1,1.035) translate(0,-117)" fill="#fff" stroke="#fff" stroke-width="7" stroke-linejoin="round">geometric mean</text><text x="1019.6" y="117" text-anchor="start" font-size="24.5" font-weight="normal" transform="translate(0,117) scale(1,1.035) translate(0,-117)" fill="#9e9e9e" stroke="#9e9e9e" stroke-width="0.35">geometric mean</text>
<text x="1019.6" y="140" text-anchor="start" font-size="24.5" font-weight="normal" transform="translate(0,140) scale(1,1.035) translate(0,-140)" fill="#fff" stroke="#fff" stroke-width="7" stroke-linejoin="round">interquartile range</text><text x="1019.6" y="140" text-anchor="start" font-size="24.5" font-weight="normal" transform="translate(0,140) scale(1,1.035) translate(0,-140)" fill="#9e9e9e" stroke="#9e9e9e" stroke-width="0.35">interquartile range</text>
<text x="949.5" y="56" text-anchor="start" font-size="24.5" font-weight="normal" transform="translate(0,56) scale(1,1.035) translate(0,-56)" fill="#fff" stroke="#fff" stroke-width="7" stroke-linejoin="round">no noise</text><text x="949.5" y="56" text-anchor="start" font-size="24.5" font-weight="normal" transform="translate(0,56) scale(1,1.035) translate(0,-56)" fill="#E91E63" stroke="#E91E63" stroke-width="0.35">no noise</text>
<text x="1418.5" y="110" text-anchor="end" font-size="24.5" font-weight="normal" transform="translate(0,110) scale(1,1.035) translate(0,-110)" fill="#fff" stroke="#fff" stroke-width="7" stroke-linejoin="round">with noise</text><text x="1418.5" y="110" text-anchor="end" font-size="24.5" font-weight="normal" transform="translate(0,110) scale(1,1.035) translate(0,-110)" fill="#2196F3" stroke="#2196F3" stroke-width="0.35">with noise</text>
<text x="880.6" y="38" text-anchor="start" font-size="24.5" font-weight="bold" transform="translate(0,38) scale(1,1.035) translate(0,-38)" fill="#000" stroke="#000" stroke-width="0.35">b</text>
<line x1="859.3" y1="7.800000000000001" x2="859.3" y2="257.1" stroke="#000" stroke-width="2"/>
<line x1="858.3" y1="256.1" x2="1481.52" y2="256.1" stroke="#000" stroke-width="2"/>
<line x1="850.5999999999999" y1="236.90" x2="859.3" y2="236.90" stroke="#000" stroke-width="2"/>
<text x="842.6" y="246" text-anchor="end" font-size="24.5" font-weight="normal" transform="translate(0,246) scale(1,1.035) translate(0,-246)" fill="#000" stroke="#000" stroke-width="0.35">1</text>
<line x1="850.5999999999999" y1="173.53" x2="859.3" y2="173.53" stroke="#000" stroke-width="2"/>
<text x="842.6" y="182" text-anchor="end" font-size="24.5" font-weight="normal" transform="translate(0,182) scale(1,1.035) translate(0,-182)" fill="#000" stroke="#000" stroke-width="0.35">10</text>
<line x1="850.5999999999999" y1="110.16" x2="859.3" y2="110.16" stroke="#000" stroke-width="2"/>
<text x="842.6" y="119" text-anchor="end" font-size="24.5" font-weight="normal" transform="translate(0,119) scale(1,1.035) translate(0,-119)" fill="#000" stroke="#000" stroke-width="0.35">100</text>
<line x1="850.5999999999999" y1="46.79" x2="859.3" y2="46.79" stroke="#000" stroke-width="2"/>
<text x="842.6" y="56" text-anchor="end" font-size="24.5" font-weight="normal" transform="translate(0,56) scale(1,1.035) translate(0,-56)" fill="#000" stroke="#000" stroke-width="0.35">1000</text>
<line x1="854.6999999999999" y1="255.98" x2="859.3" y2="255.98" stroke="#000" stroke-width="1.6"/>
<line x1="854.6999999999999" y1="250.96" x2="859.3" y2="250.96" stroke="#000" stroke-width="1.6"/>
<line x1="854.6999999999999" y1="246.72" x2="859.3" y2="246.72" stroke="#000" stroke-width="1.6"/>
<line x1="854.6999999999999" y1="243.04" x2="859.3" y2="243.04" stroke="#000" stroke-width="1.6"/>
<line x1="854.6999999999999" y1="239.80" x2="859.3" y2="239.80" stroke="#000" stroke-width="1.6"/>
<line x1="854.6999999999999" y1="217.82" x2="859.3" y2="217.82" stroke="#000" stroke-width="1.6"/>
<line x1="854.6999999999999" y1="206.66" x2="859.3" y2="206.66" stroke="#000" stroke-width="1.6"/>
<line x1="854.6999999999999" y1="198.75" x2="859.3" y2="198.75" stroke="#000" stroke-width="1.6"/>
<line x1="854.6999999999999" y1="192.61" x2="859.3" y2="192.61" stroke="#000" stroke-width="1.6"/>
<line x1="854.6999999999999" y1="187.59" x2="859.3" y2="187.59" stroke="#000" stroke-width="1.6"/>
<line x1="854.6999999999999" y1="183.35" x2="859.3" y2="183.35" stroke="#000" stroke-width="1.6"/>
<line x1="854.6999999999999" y1="179.67" x2="859.3" y2="179.67" stroke="#000" stroke-width="1.6"/>
<line x1="854.6999999999999" y1="176.43" x2="859.3" y2="176.43" stroke="#000" stroke-width="1.6"/>
<line x1="854.6999999999999" y1="154.45" x2="859.3" y2="154.45" stroke="#000" stroke-width="1.6"/>
<line x1="854.6999999999999" y1="143.29" x2="859.3" y2="143.29" stroke="#000" stroke-width="1.6"/>
<line x1="854.6999999999999" y1="135.38" x2="859.3" y2="135.38" stroke="#000" stroke-width="1.6"/>
<line x1="854.6999999999999" y1="129.24" x2="859.3" y2="129.24" stroke="#000" stroke-width="1.6"/>
<line x1="854.6999999999999" y1="124.22" x2="859.3" y2="124.22" stroke="#000" stroke-width="1.6"/>
<line x1="854.6999999999999" y1="119.98" x2="859.3" y2="119.98" stroke="#000" stroke-width="1.6"/>
<line x1="854.6999999999999" y1="116.30" x2="859.3" y2="116.30" stroke="#000" stroke-width="1.6"/>
<line x1="854.6999999999999" y1="113.06" x2="859.3" y2="113.06" stroke="#000" stroke-width="1.6"/>
<line x1="854.6999999999999" y1="91.08" x2="859.3" y2="91.08" stroke="#000" stroke-width="1.6"/>
<line x1="854.6999999999999" y1="79.92" x2="859.3" y2="79.92" stroke="#000" stroke-width="1.6"/>
<line x1="854.6999999999999" y1="72.01" x2="859.3" y2="72.01" stroke="#000" stroke-width="1.6"/>
<line x1="854.6999999999999" y1="65.87" x2="859.3" y2="65.87" stroke="#000" stroke-width="1.6"/>
<line x1="854.6999999999999" y1="60.85" x2="859.3" y2="60.85" stroke="#000" stroke-width="1.6"/>
<line x1="854.6999999999999" y1="56.61" x2="859.3" y2="56.61" stroke="#000" stroke-width="1.6"/>
<line x1="854.6999999999999" y1="52.93" x2="859.3" y2="52.93" stroke="#000" stroke-width="1.6"/>
<line x1="854.6999999999999" y1="49.69" x2="859.3" y2="49.69" stroke="#000" stroke-width="1.6"/>
<line x1="854.6999999999999" y1="27.71" x2="859.3" y2="27.71" stroke="#000" stroke-width="1.6"/>
<line x1="854.6999999999999" y1="16.55" x2="859.3" y2="16.55" stroke="#000" stroke-width="1.6"/>
<line x1="854.6999999999999" y1="8.64" x2="859.3" y2="8.64" stroke="#000" stroke-width="1.6"/>
<line x1="859.10" y1="256.1" x2="859.10" y2="264.3" stroke="#000" stroke-width="2"/>
<text x="859.10" y="291" text-anchor="middle" font-size="24.5" font-weight="normal" transform="translate(0,291) scale(1,1.035) translate(0,-291)" fill="#000" stroke="#000" stroke-width="0.35">1</text>
<line x1="915.59" y1="256.1" x2="915.59" y2="264.3" stroke="#000" stroke-width="2"/>
<text x="915.59" y="291" text-anchor="middle" font-size="24.5" font-weight="normal" transform="translate(0,291) scale(1,1.035) translate(0,-291)" fill="#000" stroke="#000" stroke-width="0.35">10</text>
<line x1="1009.75" y1="256.1" x2="1009.75" y2="264.3" stroke="#000" stroke-width="2"/>
<text x="1009.75" y="291" text-anchor="middle" font-size="24.5" font-weight="normal" transform="translate(0,291) scale(1,1.035) translate(0,-291)" fill="#000" stroke="#000" stroke-width="0.35">25</text>
<line x1="1166.67" y1="256.1" x2="1166.67" y2="264.3" stroke="#000" stroke-width="2"/>
<text x="1166.67" y="291" text-anchor="middle" font-size="24.5" font-weight="normal" transform="translate(0,291) scale(1,1.035) translate(0,-291)" fill="#000" stroke="#000" stroke-width="0.35">50</text>
<line x1="1323.60" y1="256.1" x2="1323.60" y2="264.3" stroke="#000" stroke-width="2"/>
<text x="1323.60" y="291" text-anchor="middle" font-size="24.5" font-weight="normal" transform="translate(0,291) scale(1,1.035) translate(0,-291)" fill="#000" stroke="#000" stroke-width="0.35">75</text>
<line x1="1480.52" y1="256.1" x2="1480.52" y2="264.3" stroke="#000" stroke-width="2"/>
<text x="1480.52" y="291" text-anchor="middle" font-size="24.5" font-weight="normal" transform="translate(0,291) scale(1,1.035) translate(0,-291)" fill="#000" stroke="#000" stroke-width="0.35">100</text>
<text x="0" y="0" text-anchor="middle" font-size="24.5" font-weight="normal" transform="translate(773.6,132.5) rotate(-90)" fill="#000" stroke="#000" stroke-width="0.35">acceleration factor</text>
<line x1="915.59" y1="326.1" x2="915.59" y2="573.7" stroke="#cccccc" stroke-width="2.6"/>
<line x1="859.3" y1="546.10" x2="1480.52" y2="546.10" stroke="#cccccc" stroke-width="2.6"/>
<path d="M916.20,492.00 C916.50,488.33 917.35,476.10 918.00,470.00 C918.65,463.90 919.33,460.02 920.10,455.40 C920.87,450.78 921.68,446.50 922.60,442.30 C923.52,438.10 924.52,434.07 925.60,430.20 C926.68,426.33 927.83,422.47 929.10,419.10 C930.37,415.73 932.18,412.35 933.20,410.00 C934.22,407.65 934.28,407.33 935.20,405.00 C936.12,402.67 937.50,398.73 938.70,396.00 C939.90,393.27 941.17,391.28 942.40,388.60 C943.63,385.92 944.75,382.48 946.10,379.90 C947.45,377.32 949.02,374.95 950.50,373.10 C951.98,371.25 953.37,370.40 955.00,368.80 C956.63,367.20 958.52,365.23 960.30,363.50 C962.08,361.77 963.92,359.60 965.70,358.40 C967.48,357.20 968.97,357.18 971.00,356.30 C973.03,355.42 975.68,353.82 977.90,353.10 C980.12,352.38 981.90,352.27 984.30,352.00 C986.70,351.73 990.07,351.63 992.30,351.50 C994.53,351.37 995.47,351.03 997.70,351.20 C999.93,351.37 1003.48,352.10 1005.70,352.50 C1007.92,352.90 1008.33,353.35 1011.00,353.60 C1013.67,353.85 1018.58,353.55 1021.70,354.00 C1024.82,354.45 1027.48,355.65 1029.70,356.30 C1031.92,356.95 1031.00,356.90 1035.00,357.90 C1039.00,358.90 1042.87,359.58 1053.70,362.30 C1064.53,365.02 1086.08,370.78 1100.00,374.20 C1113.92,377.62 1124.82,380.13 1137.20,382.80 C1149.58,385.47 1161.92,387.55 1174.30,390.20 C1186.68,392.85 1199.10,396.22 1211.50,398.70 C1223.90,401.18 1238.40,403.67 1248.70,405.10 C1259.00,406.53 1264.75,406.15 1273.30,407.30 C1281.85,408.45 1292.22,410.97 1300.00,412.00 C1307.78,413.03 1313.33,412.83 1320.00,413.50 C1326.67,414.17 1333.33,415.25 1340.00,416.00 C1346.67,416.75 1353.33,417.33 1360.00,418.00 C1366.67,418.67 1373.33,419.33 1380.00,420.00 C1386.67,420.67 1390.00,421.00 1400.00,422.00 C1410.00,423.00 1426.50,424.90 1440.00,426.00 C1453.50,427.10 1474.17,428.17 1481.00,428.60 L1480.70,458.70 C1467.25,458.00 1421.78,455.70 1400.00,454.50 C1378.22,453.30 1366.67,452.62 1350.00,451.50 C1333.33,450.38 1316.88,449.03 1300.00,447.80 C1283.12,446.57 1263.45,445.33 1248.70,444.10 C1233.95,442.87 1223.90,441.52 1211.50,440.40 C1199.10,439.28 1186.68,438.65 1174.30,437.40 C1161.92,436.15 1149.58,434.27 1137.20,432.90 C1124.82,431.53 1110.87,429.75 1100.00,429.20 C1089.13,428.65 1080.40,429.38 1072.00,429.60 C1063.60,429.82 1057.38,429.65 1049.60,430.50 C1041.82,431.35 1034.02,432.60 1025.30,434.70 C1016.58,436.80 1004.83,439.80 997.30,443.10 C989.77,446.40 985.03,450.93 980.10,454.50 C975.17,458.07 971.57,460.92 967.70,464.50 C963.83,468.08 960.52,470.78 956.90,476.00 C953.28,481.22 948.65,491.47 946.00,495.80 C943.35,500.13 942.58,499.63 941.00,502.00 C939.42,504.37 938.17,506.32 936.50,510.00 C934.83,513.68 932.63,519.58 931.00,524.10 C929.37,528.62 927.97,533.12 926.70,537.10 C925.43,541.08 924.48,544.38 923.40,548.00 C922.32,551.62 921.10,555.80 920.20,558.80 C919.30,561.80 918.67,563.63 918.00,566.00 C917.33,568.37 916.50,571.83 916.20,573.00 Z" fill="#E91E63" fill-opacity="0.2"/>
<path d="M916.20,490.00 C916.62,488.35 917.82,483.93 918.70,480.10 C919.58,476.27 920.57,470.85 921.50,467.00 C922.43,463.15 923.22,459.58 924.30,457.00 C925.38,454.42 926.45,453.08 928.00,451.50 C929.55,449.92 931.12,448.92 933.60,447.50 C936.08,446.08 939.33,444.03 942.90,443.00 C946.47,441.97 951.22,441.67 955.00,441.30 C958.78,440.93 961.43,440.77 965.60,440.80 C969.77,440.83 974.72,441.12 980.00,441.50 C985.28,441.88 991.30,442.48 997.30,443.10 C1003.30,443.72 1009.77,444.52 1016.00,445.20 C1022.23,445.88 1025.37,446.47 1034.70,447.20 C1044.03,447.93 1059.57,448.88 1072.00,449.60 C1084.43,450.32 1096.85,450.97 1109.30,451.50 C1121.75,452.03 1134.25,452.33 1146.70,452.80 C1159.15,453.27 1173.45,453.88 1184.00,454.30 C1194.55,454.72 1200.67,455.00 1210.00,455.30 C1219.33,455.60 1227.55,455.80 1240.00,456.10 C1252.45,456.40 1264.82,456.47 1284.70,457.10 C1304.58,457.73 1336.75,459.12 1359.30,459.90 C1381.85,460.68 1399.77,461.17 1420.00,461.80 C1440.23,462.43 1470.58,463.38 1480.70,463.70 L1480.70,528.60 C1460.47,528.67 1391.97,528.78 1359.30,529.00 C1326.63,529.22 1309.58,529.58 1284.70,529.90 C1259.82,530.22 1230.12,530.37 1210.00,530.90 C1189.88,531.43 1177.88,532.43 1164.00,533.10 C1150.12,533.77 1139.15,534.28 1126.70,534.90 C1114.25,535.52 1101.75,536.33 1089.30,536.80 C1076.85,537.27 1064.43,537.23 1052.00,537.70 C1039.57,538.17 1024.20,539.02 1014.70,539.60 C1005.20,540.18 1001.23,540.58 995.00,541.20 C988.77,541.82 983.35,542.32 977.30,543.30 C971.25,544.28 964.92,545.53 958.70,547.10 C952.48,548.67 944.97,550.72 940.00,552.70 C935.03,554.68 931.83,556.72 928.90,559.00 C925.97,561.28 924.52,564.15 922.40,566.40 C920.28,568.65 917.23,571.48 916.20,572.50 Z" fill="#2196F3" fill-opacity="0.2"/>
<path d="M916.20,534.30 C916.93,530.67 919.25,518.88 920.60,512.50 C921.95,506.12 922.92,501.17 924.30,496.00 C925.68,490.83 927.35,486.08 928.90,481.50 C930.45,476.92 931.88,472.83 933.60,468.50 C935.32,464.17 937.35,459.50 939.20,455.50 C941.05,451.50 942.53,448.25 944.70,444.50 C946.87,440.75 949.65,436.50 952.20,433.00 C954.75,429.50 957.37,426.25 960.00,423.50 C962.63,420.75 964.67,419.17 968.00,416.50 C971.33,413.83 975.78,410.08 980.00,407.50 C984.22,404.92 989.13,402.75 993.30,401.00 C997.47,399.25 1000.55,398.00 1005.00,397.00 C1009.45,396.00 1014.17,395.22 1020.00,395.00 C1025.83,394.78 1033.33,395.48 1040.00,395.70 C1046.67,395.92 1049.17,395.37 1060.00,396.30 C1070.83,397.23 1085.95,398.42 1105.00,401.30 C1124.05,404.18 1150.35,409.98 1174.30,413.60 C1198.25,417.22 1227.75,420.40 1248.70,423.00 C1269.65,425.60 1274.78,426.77 1300.00,429.20 C1325.22,431.63 1369.88,435.25 1400.00,437.60 C1430.12,439.95 1467.25,442.35 1480.70,443.30" fill="none" stroke="#E91E63" stroke-opacity="0.55" stroke-width="2.7" stroke-dasharray="2.9 3.6"/>
<path d="M916.20,534.30 C916.93,530.53 919.25,518.27 920.60,511.70 C921.95,505.13 922.92,500.17 924.30,494.90 C925.68,489.63 927.35,484.75 928.90,480.10 C930.45,475.45 931.88,471.35 933.60,467.00 C935.32,462.65 937.35,458.02 939.20,454.00 C941.05,449.98 942.53,446.62 944.70,442.90 C946.87,439.18 949.65,435.13 952.20,431.70 C954.75,428.27 957.58,424.97 960.00,422.30 C962.42,419.63 964.48,417.63 966.70,415.70 C968.92,413.77 971.08,412.20 973.30,410.70 C975.52,409.20 977.77,407.77 980.00,406.70 C982.23,405.63 984.48,405.20 986.70,404.30 C988.92,403.40 991.08,402.13 993.30,401.30 C995.52,400.47 997.22,399.85 1000.00,399.30 C1002.78,398.75 1006.67,398.27 1010.00,398.00 C1013.33,397.73 1016.67,397.75 1020.00,397.70 C1023.33,397.65 1026.67,397.60 1030.00,397.70 C1033.33,397.80 1036.67,398.08 1040.00,398.30 C1043.33,398.52 1046.48,398.72 1050.00,399.00 C1053.52,399.28 1055.53,399.18 1061.10,400.00 C1066.67,400.82 1076.08,402.75 1083.40,403.90 C1090.72,405.05 1096.03,405.65 1105.00,406.90 C1113.97,408.15 1125.65,409.85 1137.20,411.40 C1148.75,412.95 1161.92,414.60 1174.30,416.20 C1186.68,417.80 1199.10,419.33 1211.50,421.00 C1223.90,422.67 1233.95,424.57 1248.70,426.20 C1263.45,427.83 1285.90,429.62 1300.00,430.80 C1314.10,431.98 1324.97,432.57 1333.30,433.30 C1341.63,434.03 1338.88,434.13 1350.00,435.20 C1361.12,436.27 1385.20,438.55 1400.00,439.70 C1414.80,440.85 1425.35,441.18 1438.80,442.10 C1452.25,443.02 1473.72,444.68 1480.70,445.20" fill="none" stroke="#E91E63" stroke-width="3.0"/>
<path d="M916.20,534.30 C917.00,532.42 919.15,526.38 921.00,523.00 C922.85,519.62 925.20,516.50 927.30,514.00 C929.40,511.50 931.48,509.50 933.60,508.00 C935.72,506.50 937.90,505.75 940.00,505.00 C942.10,504.25 944.13,504.00 946.20,503.50 C948.27,503.00 950.13,502.42 952.40,502.00 C954.67,501.58 957.42,501.30 959.80,501.00 C962.18,500.70 963.48,500.40 966.70,500.20 C969.92,500.00 974.77,499.90 979.10,499.80 C983.43,499.70 988.37,499.53 992.70,499.60 C997.03,499.67 1000.97,500.03 1005.10,500.20 C1009.23,500.37 1012.50,500.53 1017.50,500.60 C1022.50,500.67 1025.97,500.42 1035.10,500.60 C1044.23,500.78 1060.65,501.38 1072.30,501.70 C1083.95,502.02 1088.00,502.32 1105.00,502.50 C1122.00,502.68 1156.80,502.73 1174.30,502.80 C1191.80,502.87 1191.60,502.63 1210.00,502.90 C1228.40,503.17 1259.82,503.93 1284.70,504.40 C1309.58,504.87 1326.63,505.12 1359.30,505.70 C1391.97,506.28 1460.47,507.53 1480.70,507.90" fill="none" stroke="#2196F3" stroke-opacity="0.55" stroke-width="2.7" stroke-dasharray="2.9 3.6"/>
<path d="M916.20,534.30 C917.00,532.33 919.15,526.05 921.00,522.50 C922.85,518.95 925.20,515.58 927.30,513.00 C929.40,510.42 931.48,508.58 933.60,507.00 C935.72,505.42 937.93,504.53 940.00,503.50 C942.07,502.47 943.93,501.65 946.00,500.80 C948.07,499.95 949.27,499.22 952.40,498.40 C955.53,497.58 960.67,496.53 964.80,495.90 C968.93,495.27 973.07,494.92 977.20,494.60 C981.33,494.28 985.98,494.20 989.60,494.00 C993.22,493.80 993.83,493.40 998.90,493.40 C1003.97,493.40 1013.97,493.98 1020.00,494.00 C1026.03,494.02 1026.38,493.75 1035.10,493.50 C1043.82,493.25 1060.65,492.83 1072.30,492.50 C1083.95,492.17 1088.00,491.98 1105.00,491.50 C1122.00,491.02 1156.80,490.03 1174.30,489.60 C1191.80,489.17 1191.60,489.23 1210.00,488.90 C1228.40,488.57 1259.82,487.92 1284.70,487.60 C1309.58,487.28 1336.75,487.05 1359.30,487.00 C1381.85,486.95 1399.77,487.08 1420.00,487.30 C1440.23,487.52 1470.58,488.13 1480.70,488.30" fill="none" stroke="#2196F3" stroke-width="3.0"/>
<text x="1468.2" y="425" text-anchor="end" font-size="24.5" font-weight="normal" transform="translate(0,425) scale(1,1.035) translate(0,-425)" fill="#fff" stroke="#fff" stroke-width="7" stroke-linejoin="round">no noise</text><text x="1468.2" y="425" text-anchor="end" font-size="24.5" font-weight="normal" transform="translate(0,425) scale(1,1.035) translate(0,-425)" fill="#E91E63" stroke="#E91E63" stroke-width="0.35">no noise</text>
<text x="1468.2" y="477" text-anchor="end" font-size="24.5" font-weight="normal" transform="translate(0,477) scale(1,1.035) translate(0,-477)" fill="#fff" stroke="#fff" stroke-width="7" stroke-linejoin="round">with noise</text><text x="1468.2" y="477" text-anchor="end" font-size="24.5" font-weight="normal" transform="translate(0,477) scale(1,1.035) translate(0,-477)" fill="#2196F3" stroke="#2196F3" stroke-width="0.35">with noise</text>
<text x="880.6" y="345" text-anchor="start" font-size="24.5" font-weight="bold" transform="translate(0,345) scale(1,1.035) translate(0,-345)" fill="#000" stroke="#000" stroke-width="0.35">c</text>
<line x1="859.3" y1="325.1" x2="859.3" y2="574.7" stroke="#000" stroke-width="2"/>
<line x1="858.3" y1="573.7" x2="1481.52" y2="573.7" stroke="#000" stroke-width="2"/>
<line x1="850.5999999999999" y1="546.10" x2="859.3" y2="546.10" stroke="#000" stroke-width="2"/>
<text x="842.6" y="555" text-anchor="end" font-size="24.5" font-weight="normal" transform="translate(0,555) scale(1,1.035) translate(0,-555)" fill="#000" stroke="#000" stroke-width="0.35">1.0</text>
<line x1="850.5999999999999" y1="454.55" x2="859.3" y2="454.55" stroke="#000" stroke-width="2"/>
<text x="842.6" y="463" text-anchor="end" font-size="24.5" font-weight="normal" transform="translate(0,463) scale(1,1.035) translate(0,-463)" fill="#000" stroke="#000" stroke-width="0.35">1.5</text>
<line x1="850.5999999999999" y1="363.00" x2="859.3" y2="363.00" stroke="#000" stroke-width="2"/>
<text x="842.6" y="372" text-anchor="end" font-size="24.5" font-weight="normal" transform="translate(0,372) scale(1,1.035) translate(0,-372)" fill="#000" stroke="#000" stroke-width="0.35">2.0</text>
<line x1="859.10" y1="573.7" x2="859.10" y2="581.7" stroke="#000" stroke-width="2"/>
<text x="859.10" y="608" text-anchor="middle" font-size="24.5" font-weight="normal" transform="translate(0,608) scale(1,1.035) translate(0,-608)" fill="#000" stroke="#000" stroke-width="0.35">1</text>
<line x1="915.59" y1="573.7" x2="915.59" y2="581.7" stroke="#000" stroke-width="2"/>
<text x="915.59" y="608" text-anchor="middle" font-size="24.5" font-weight="normal" transform="translate(0,608) scale(1,1.035) translate(0,-608)" fill="#000" stroke="#000" stroke-width="0.35">10</text>
<line x1="1009.75" y1="573.7" x2="1009.75" y2="581.7" stroke="#000" stroke-width="2"/>
<text x="1009.75" y="608" text-anchor="middle" font-size="24.5" font-weight="normal" transform="translate(0,608) scale(1,1.035) translate(0,-608)" fill="#000" stroke="#000" stroke-width="0.35">25</text>
<line x1="1166.67" y1="573.7" x2="1166.67" y2="581.7" stroke="#000" stroke-width="2"/>
<text x="1166.67" y="608" text-anchor="middle" font-size="24.5" font-weight="normal" transform="translate(0,608) scale(1,1.035) translate(0,-608)" fill="#000" stroke="#000" stroke-width="0.35">50</text>
<line x1="1323.60" y1="573.7" x2="1323.60" y2="581.7" stroke="#000" stroke-width="2"/>
<text x="1323.60" y="608" text-anchor="middle" font-size="24.5" font-weight="normal" transform="translate(0,608) scale(1,1.035) translate(0,-608)" fill="#000" stroke="#000" stroke-width="0.35">75</text>
<line x1="1480.52" y1="573.7" x2="1480.52" y2="581.7" stroke="#000" stroke-width="2"/>
<text x="1480.52" y="608" text-anchor="middle" font-size="24.5" font-weight="normal" transform="translate(0,608) scale(1,1.035) translate(0,-608)" fill="#000" stroke="#000" stroke-width="0.35">100</text>
<text x="1169.9" y="640" text-anchor="middle" font-size="24.5" font-weight="normal" transform="translate(0,640) scale(1,1.035) translate(0,-640)" fill="#000" stroke="#000" stroke-width="0.35">samples</text>
<text x="0" y="0" text-anchor="middle" font-size="24.5" font-weight="normal" transform="translate(773.6,450.2) rotate(-90)" fill="#000" stroke="#000" stroke-width="0.35">enhancement factor</text>
</svg>
</body></html>
